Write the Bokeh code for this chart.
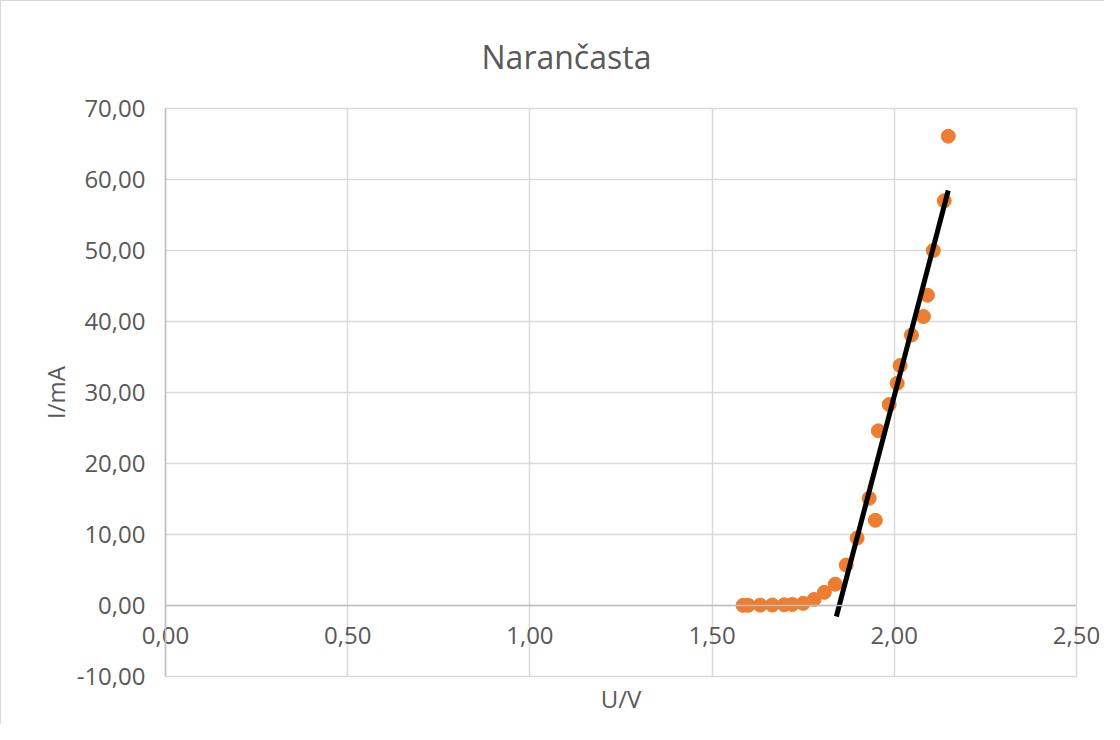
from bokeh.plotting import figure
from bokeh.models import Range1d, CustomJSTickFormatter, FixedTicker, Span
from bokeh.embed import file_html
from bokeh.resources import INLINE

# --- data ---
U = [1.585, 1.599, 1.632, 1.665, 1.698, 1.720, 1.750, 1.780, 1.808, 1.838,
     1.868, 1.898, 1.931, 1.948, 1.956, 1.986, 2.008, 2.016, 2.047, 2.080,
     2.091, 2.107, 2.137, 2.148]
I = [0.02, 0.03, 0.05, 0.07, 0.10, 0.15, 0.30, 0.85, 1.85, 3.00,
     5.70, 9.50, 15.10, 12.00, 24.60, 28.30, 31.30, 33.80, 38.10, 40.70,
     43.70, 50.00, 57.00, 66.10]
trend_U = [1.841, 2.148]
trend_I = [-1.55, 58.45]
x_ticks = [0.0, 0.5, 1.0, 1.5, 2.0, 2.5]
y_ticks = [-10, 0, 10, 20, 30, 40, 50, 60, 70]

TEXT = "#595959"
GRID = "#d9d9d9"
FONT = "Open Sans"
fmt = CustomJSTickFormatter(code="return tick.toFixed(2).replace('.', ',')")

p = figure(width=1104, height=724, output_backend="svg", toolbar_location=None,
           x_range=Range1d(0, 2.5), y_range=Range1d(-10, 70),
           min_border_left=164, min_border_right=29,
           min_border_top=106, min_border_bottom=49,
           title="Narančasta")
p.styles = {"border-left": "1px solid #d9d9d9", "border-top": "1px solid #d9d9d9"}

p.outline_line_color = GRID
p.outline_line_width = 1.5
p.background_fill_color = "white"
p.border_fill_color = "white"

p.title.text_font = FONT
p.title.text_font_size = "32px"
p.title.text_font_style = "normal"
p.title.text_color = TEXT
p.title.align = "left"
p.title.offset = 316
p.title.standoff = 62

# grids
p.xgrid.ticker = FixedTicker(ticks=x_ticks)
p.ygrid.ticker = FixedTicker(ticks=y_ticks)
p.xgrid.grid_line_color = GRID
p.ygrid.grid_line_color = GRID
p.xgrid.grid_line_width = 1.5
p.ygrid.grid_line_width = 1.5

# zero line (horizontal axis crosses at I = 0)
p.add_layout(Span(location=0, dimension="width", line_color="#bfbfbf", line_width=1.5))

xa = p.xaxis[0]
xa.ticker = FixedTicker(ticks=x_ticks)
xa.formatter = fmt
xa.axis_label = "U/V"
xa.axis_label_text_font = FONT
xa.axis_label_text_font_style = "normal"
xa.axis_label_text_font_size = "24px"
xa.axis_label_text_color = TEXT
xa.axis_label_standoff = 35
xa.major_label_text_font = FONT
xa.major_label_text_font_size = "24px"
xa.major_label_text_color = TEXT
xa.major_label_standoff = -56
xa.axis_line_color = None
xa.major_tick_line_color = None
xa.minor_tick_line_color = None

ya = p.yaxis[0]
ya.ticker = FixedTicker(ticks=y_ticks)
ya.formatter = fmt
ya.axis_label = "I/mA"
ya.axis_label_text_font = FONT
ya.axis_label_text_font_style = "normal"
ya.axis_label_text_font_size = "24px"
ya.axis_label_text_color = TEXT
ya.axis_label_standoff = 2
ya.major_label_text_font = FONT
ya.major_label_text_font_size = "24px"
ya.major_label_text_color = TEXT
ya.major_label_standoff = 14
ya.axis_line_color = "#bfbfbf"
ya.axis_line_width = 1.5
ya.major_tick_line_color = None
ya.minor_tick_line_color = None

p.scatter(U, I, size=14, marker="circle", fill_color="#ED7D31", line_color="#ED7D31")
p.line(trend_U, trend_I, line_color="black", line_width=5)

open("out.html", "w").write(file_html(p, INLINE))
